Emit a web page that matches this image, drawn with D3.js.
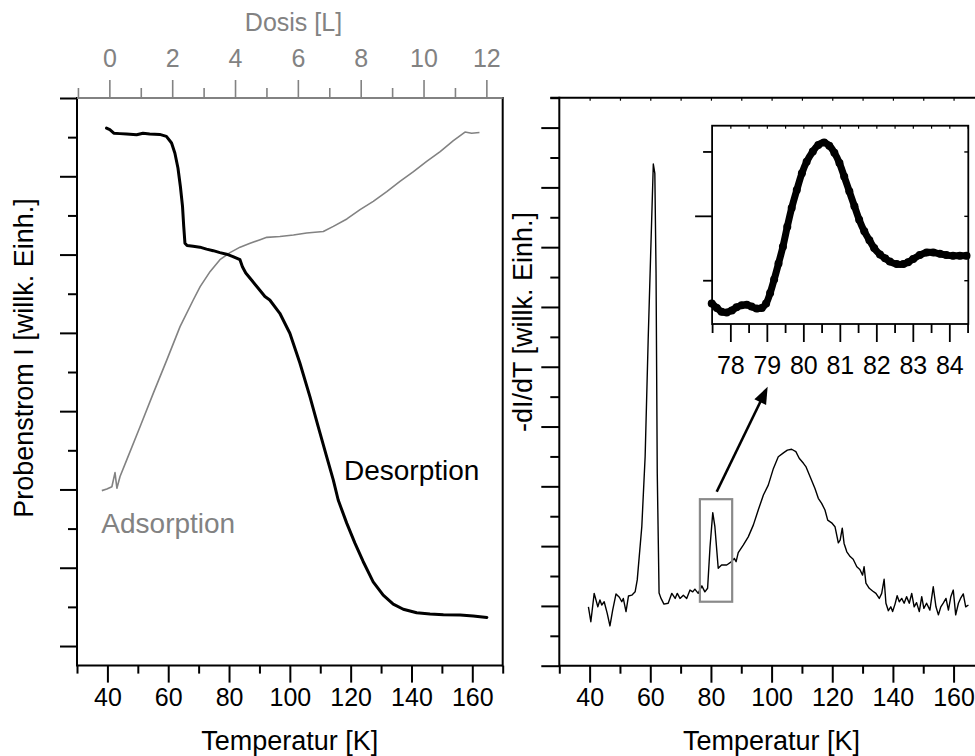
<!DOCTYPE html>
<html><head><meta charset="utf-8">
<script src="https://cdn.jsdelivr.net/npm/d3@7"></script>
<style>body{margin:0;background:#fff}svg{display:block;font-family:"Liberation Sans",Arial,sans-serif}</style>
</head><body><svg id="c" width="975" height="756"></svg>
<script>
// ---------- DATA ----------
// Left panel: desorption (sample current vs temperature)
const desT = [39.7,40.8,42.1,44.1,46.3,49.6,51.7,53.9,57.2,59.4,61.1,62.2,63.2,64.0,64.7,65.1,65.5,66.2,68.2,70.4,72.6,74.8,77.0,79.2,81.3,83.6,84.4,85.5,87.4,89.6,91.8,93.4,96.7,100.0,103.3,106.6,109.3,112.1,114.3,115.9,118.7,121.4,124.1,127.4,130.7,134.0,137.3,141.7,146.1,150.5,156.0,160.3,164.8];
const desI = [13.73,13.69,13.60,13.59,13.58,13.56,13.60,13.58,13.57,13.52,13.35,13.09,12.71,12.24,11.73,11.22,10.79,10.73,10.71,10.69,10.64,10.60,10.55,10.51,10.45,10.37,10.19,10.03,9.85,9.64,9.43,9.34,9.00,8.49,7.73,6.87,6.11,5.34,4.74,4.23,3.64,3.13,2.66,2.14,1.80,1.57,1.44,1.35,1.32,1.30,1.29,1.27,1.23];
// Left panel: adsorption (sample current vs dose)
const adsDose = [-0.24,-0.08,0.08,0.18,0.24,0.34,0.55,0.98,1.40,1.83,2.25,2.67,2.89,3.21,3.52,3.84,4.16,4.48,4.80,5.01,5.43,5.86,6.28,6.81,7.13,7.56,7.98,8.40,8.83,9.25,9.68,10.10,10.53,10.95,11.32,11.53,11.78];
const adsI = [4.47,4.51,4.57,4.93,4.53,4.83,5.25,6.11,6.96,7.81,8.66,9.34,9.68,10.07,10.37,10.55,10.69,10.79,10.88,10.94,10.96,11.00,11.05,11.09,11.22,11.41,11.65,11.86,12.11,12.37,12.62,12.88,13.13,13.41,13.63,13.60,13.62];
// Right panel: -dI/dT vs temperature
const tdsT = [39.6,40.4,41.5,42.7,43.4,44.0,44.8,45.8,46.7,47.6,48.7,49.8,50.6,51.1,52.0,52.8,53.9,55.0,55.7,57.2,58.3,59.3,60.1,61.0,61.5,61.9,62.3,62.9,63.5,64.5,65.9,67.1,68.2,68.9,69.8,70.9,72.0,73.1,74.0,74.7,75.8,77.0,78.0,78.9,79.7,80.6,81.3,82.4,83.5,85.2,86.8,87.7,88.3,89.0,90.7,92.3,94.0,95.6,97.3,98.9,100.6,102.2,103.9,105.2,106.6,108.0,109.1,110.5,111.3,112.7,114.3,115.4,116.5,117.6,118.5,119.8,120.9,122.0,122.6,123.3,123.9,124.8,125.9,126.9,128.1,129.1,130.0,130.5,131.1,132.2,133.3,134.4,135.5,136.3,137.1,137.7,138.5,139.3,139.9,140.7,141.4,142.1,142.9,143.7,144.5,145.4,146.2,147.0,147.8,148.7,149.5,150.2,151.1,152.2,153.3,154.2,155.0,155.8,156.6,157.5,158.3,159.1,159.9,160.7,161.6,162.3,163.2,164.0,164.9];
const tdsV = [1.97,1.47,2.42,1.97,2.20,2.03,2.14,1.75,1.33,1.86,2.40,2.29,2.14,2.25,1.81,2.33,2.36,2.47,2.87,4.65,6.99,10.89,13.68,16.78,16.47,13.13,6.44,2.43,2.26,2.06,2.09,2.42,2.25,2.42,2.25,2.36,2.25,2.53,2.47,2.56,2.42,2.67,2.47,2.59,3.98,5.12,4.65,3.26,3.37,3.37,3.48,3.59,3.48,3.78,4.04,4.31,4.71,5.21,5.71,6.04,6.60,6.99,7.12,7.21,7.24,7.16,6.94,6.77,6.66,6.32,5.93,5.60,5.43,5.21,4.87,4.78,4.65,4.11,4.20,4.60,4.09,3.81,3.65,3.56,3.31,3.22,3.03,3.31,2.76,2.59,2.50,2.42,2.25,2.42,2.89,2.09,1.84,1.97,1.81,2.06,2.34,2.14,2.25,2.09,2.31,2.09,2.42,1.97,2.11,1.81,2.31,1.92,2.09,1.86,2.64,1.97,1.70,1.97,2.09,2.25,1.86,2.31,2.53,1.70,2.09,2.25,2.40,1.97,2.03];
// Inset: zoom of the 80 K peak
const insT = [77.49,77.63,77.76,77.90,78.04,78.17,78.31,78.45,78.58,78.72,78.86,78.98,79.09,79.20,79.32,79.44,79.56,79.68,79.82,79.96,80.09,80.26,80.41,80.57,80.71,80.85,80.99,81.12,81.26,81.40,81.53,81.67,81.81,81.94,82.10,82.24,82.37,82.56,82.74,82.87,83.01,83.19,83.38,83.56,83.74,83.92,84.10,84.29,84.47];
const insV = [0.64,0.57,0.51,0.50,0.53,0.58,0.61,0.62,0.59,0.56,0.57,0.64,0.80,1.01,1.26,1.52,1.83,2.12,2.40,2.66,2.84,3.00,3.10,3.14,3.09,2.98,2.82,2.61,2.38,2.15,1.94,1.76,1.62,1.50,1.40,1.34,1.29,1.25,1.25,1.28,1.33,1.39,1.43,1.43,1.41,1.39,1.38,1.38,1.38];
// Tick values
const tempTicks = [40,60,80,100,120,140,160];
const tempMinor = [30,50,70,90,110,130,150,170];
const doseTicks = [0,2,4,6,8,10,12];
const doseMinor = [-1,1,3,5,7,9,11];
const insetTicks = [78,79,80,81,82,83,84];
const insetMinor = [77.5,78.5,79.5,80.5,81.5,82.5,83.5,84.5];
const leftYMajor = [0.5,2.5,4.5,6.5,8.5,10.5,12.5,14.5];
const leftYMinor = [1.5,3.5,5.5,7.5,9.5,11.5,13.5];
const rightYMajor = [0,2,4,6,8,10,12,14,16,18];
const rightYMinor = [1,3,5,7,9,11,13,15,17,19];

// ---------- SCALES ----------
const GRAY = "#828282";
const xL = d3.scaleLinear().domain([30,170]).range([77,502.7]);
const yL = d3.scaleLinear().domain([0,14.5]).range([665.6,98]);
const xDose = d3.scaleLinear().domain([-1.03,12.52]).range([77,502.7]);
const xR = d3.scaleLinear().domain([30,170]).range([559.3,983.9]);
const yR = d3.scaleLinear().domain([0,19]).range([665.7,97.7]);
const xI = d3.scaleLinear().domain([77.5,84.52]).range([712.1,968.3]);
const yI = d3.scaleLinear().domain([0.32,3.40]).range([324,125.7]);

const svg = d3.select("#c");

function axis(gen, tx, ty, opts = {}) {
  const g = svg.append("g").attr("transform", `translate(${tx},${ty})`).call(gen);
  g.select(".domain").remove();
  g.attr("font-family", null).attr("font-size", opts.fs || 25);
  g.selectAll(".tick line").attr("stroke", opts.color || "#000").attr("stroke-width", opts.sw || 2);
  g.selectAll(".tick text").attr("fill", opts.color || "#000");
  if (opts.textY !== undefined) g.selectAll(".tick text").attr("y", opts.textY).attr("dy", null);
  return g;
}
function line(x1,y1,x2,y2,color="#000",sw=2){
  svg.append("line").attr("x1",x1).attr("y1",y1).attr("x2",x2).attr("y2",y2)
    .attr("stroke",color).attr("stroke-width",sw);
}

// ---------- LEFT PANEL ----------
axis(d3.axisBottom(xL).tickValues(tempTicks).tickSize(17).tickFormat(d3.format("d")), 0, yL(0), {textY: 40});
axis(d3.axisBottom(xL).tickValues(tempMinor).tickSize(8).tickFormat(""), 0, yL(0));
axis(d3.axisLeft(yL).tickValues(leftYMajor).tickSize(17).tickFormat(""), xL(30), 0);
axis(d3.axisLeft(yL).tickValues(leftYMinor).tickSize(9).tickFormat(""), xL(30), 0);
axis(d3.axisTop(xDose).tickValues(doseTicks).tickSize(18).tickFormat(d3.format("d")), 0, yL(14.5), {color: GRAY, textY: -31.3, sw: 1.6});
axis(d3.axisTop(xDose).tickValues(doseMinor).tickSize(10).tickFormat(""), 0, yL(14.5), {color: GRAY, sw: 1.6});
line(xL(30), yL(0), xL(170), yL(0));
line(xL(30), yL(0)+1, xL(30), yL(14.5)-1);
line(xL(170), yL(0)+1, xL(170), yL(14.5)-1);
line(xL(30), yL(14.5), xL(170), yL(14.5), GRAY, 1.8);

svg.append("path").attr("fill","none").attr("stroke",GRAY).attr("stroke-width",1.6).attr("stroke-linejoin","round")
  .attr("d", d3.line().x((d,i)=>xDose(adsDose[i])).y((d,i)=>yL(adsI[i]))(adsDose));
svg.append("path").attr("fill","none").attr("stroke","#000").attr("stroke-width",3).attr("stroke-linejoin","round").attr("stroke-linecap","round")
  .attr("d", d3.line().x((d,i)=>xL(desT[i])).y((d,i)=>yL(desI[i]))(desT));

svg.append("text").attr("x", xL(117.8)).attr("y", yL(4.74)).attr("font-size", 28).text("Desorption");
svg.append("text").attr("x", xL(38.0)).attr("y", yL(3.38)).attr("font-size", 28).attr("fill", GRAY).text("Adsorption");
svg.append("text").attr("x", 293.5).attr("y", 30.7).attr("font-size", 25).attr("fill", GRAY).attr("text-anchor","middle").text("Dosis [L]");
svg.append("text").attr("x", (xL(30)+xL(170))/2).attr("y", 750).attr("font-size", 27).attr("text-anchor","middle").text("Temperatur [K]");
svg.append("text").attr("transform","translate(32.5,358) rotate(-90)").attr("font-size", 27).attr("text-anchor","middle").text("Probenstrom I [willk. Einh.]");

// ---------- RIGHT PANEL ----------
axis(d3.axisBottom(xR).tickValues(tempTicks).tickSize(17).tickFormat(d3.format("d")), 0, yR(0), {textY: 40});
axis(d3.axisBottom(xR).tickValues(tempMinor).tickSize(8).tickFormat(""), 0, yR(0));
axis(d3.axisLeft(yR).tickValues(rightYMajor).tickSize(18).tickFormat(""), xR(30), 0);
axis(d3.axisLeft(yR).tickValues(rightYMinor).tickSize(9).tickFormat(""), xR(30), 0);
axis(d3.axisBottom(xR).tickValues(d3.range(40,161,10)).tickSize(3).tickFormat(""), 0, yR(19), {sw: 1.2});
line(xR(30), yR(0), 975, yR(0));
line(xR(30), yR(0)+1, xR(30), yR(19)-1);
line(xR(30)-9, yR(19), 975, yR(19));

svg.append("path").attr("fill","none").attr("stroke","#000").attr("stroke-width",1.4).attr("stroke-linejoin","round")
  .attr("d", d3.line().x((d,i)=>xR(tdsT[i])).y((d,i)=>yR(tdsV[i]))(tdsT));

// gray box around the 80 K peak
svg.append("rect").attr("x", xR(76.36)).attr("y", yR(5.57))
  .attr("width", xR(87.0)-xR(76.36)).attr("height", yR(2.14)-yR(5.57))
  .attr("fill","none").attr("stroke","#8a8a8a").attr("stroke-width",2.2);

// arrow
{
  const p0 = [xR(81.9), yR(5.82)], p1 = [xR(98.7), yR(9.33)];
  const dx = p1[0]-p0[0], dy = p1[1]-p0[1], L = Math.hypot(dx,dy), ux = dx/L, uy = dy/L;
  const hl = 17, hw = 6.5;
  const b = [p1[0]-ux*hl, p1[1]-uy*hl];
  line(p0[0], p0[1], b[0]+ux*2, b[1]+uy*2, "#000", 2.6);
  svg.append("path").attr("fill","#000")
    .attr("d", `M${p1[0]},${p1[1]}L${b[0]-uy*hw},${b[1]+ux*hw}L${b[0]+uy*hw},${b[1]-ux*hw}Z`);
}

svg.append("text").attr("x", (xR(30)+xR(170))/2).attr("y", 750).attr("font-size", 27).attr("text-anchor","middle").text("Temperatur [K]");
svg.append("text").attr("transform","translate(532,322) rotate(-90)").attr("font-size", 27).attr("text-anchor","middle").text("-dI/dT [willk. Einh.]");

// ---------- INSET ----------
svg.append("rect").attr("x", xI(77.5)).attr("y", yI(3.40)).attr("width", xI(84.52)-xI(77.5)).attr("height", yI(0.32)-yI(3.40))
  .attr("fill","#fff").attr("stroke","#000").attr("stroke-width",1.8);
axis(d3.axisBottom(xI).tickValues(insetTicks).tickSize(18).tickFormat(d3.format("d")), 0, yI(0.32), {textY: 49.5, sw: 1.8});
axis(d3.axisBottom(xI).tickValues(insetMinor).tickSize(9).tickFormat(""), 0, yI(0.32), {sw: 1.8});
axis(d3.axisBottom(xI).tickValues(d3.range(78,84.6,0.5)).tickSize(3).tickFormat(""), 0, yI(3.40), {sw: 1.2});
axis(d3.axisLeft(yI).tickValues([2]).tickSize(17).tickFormat(""), xI(77.5), 0, {sw: 1.8});
axis(d3.axisLeft(yI).tickValues([1,3]).tickSize(9).tickFormat(""), xI(77.5), 0, {sw: 1.8});
axis(d3.axisLeft(yI).tickValues([1,2,3]).tickSize(4).tickFormat(""), xI(84.52), 0, {sw: 1.4});

svg.append("path").attr("fill","none").attr("stroke","#000").attr("stroke-width",7).attr("stroke-linejoin","round").attr("stroke-linecap","round")
  .attr("d", d3.line().curve(d3.curveCatmullRom).x((d,i)=>xI(insT[i])).y((d,i)=>yI(insV[i]))(insT));
svg.append("g").selectAll("circle").data(insT).join("circle")
  .attr("cx",(d,i)=>xI(insT[i])).attr("cy",(d,i)=>yI(insV[i])).attr("r",4).attr("fill","#000");
</script></body></html>
